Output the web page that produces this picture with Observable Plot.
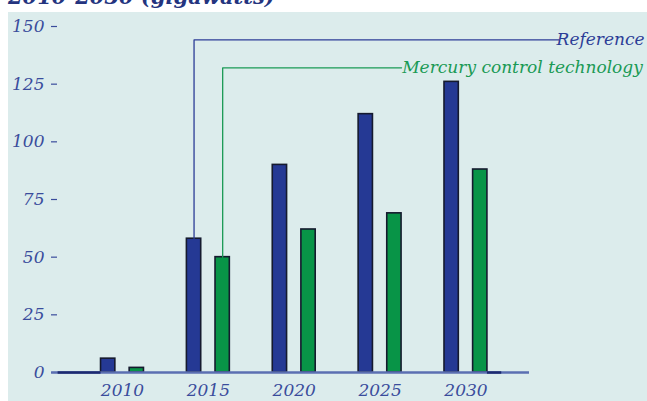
<!DOCTYPE html>
<html>
<head>
<meta charset="utf-8">
<script src="https://cdn.jsdelivr.net/npm/d3@7"></script>
<script src="https://cdn.jsdelivr.net/npm/@observablehq/plot@0.6"></script>
<style>
  html, body { margin: 0; padding: 0; background: #ffffff; width: 647px; height: 401px; overflow: hidden; }
  #wrap { position: relative; width: 647px; height: 401px; }
  #panel { position: absolute; left: 8px; top: 12px; width: 639px; height: 389px; background: #dcecec; }
  #title { position: absolute; left: 8px; top: -14px; font-family: "DejaVu Serif", serif; font-weight: bold; font-style: italic; font-size: 21px; color: #24347f; white-space: nowrap; line-height: 1; }
  #chart { position: absolute; left: 0; top: 0; }
</style>
</head>
<body>
<div id="wrap">
  <div id="panel"></div>
  <div id="title">2010-2030 (gigawatts)</div>
  <div id="chart"></div>
</div>
<script>
// ---- data ----
const years = [2010, 2015, 2020, 2025, 2030];
const referenceValues = [6, 58, 90, 112, 126];
const mercuryValues = [2, 50, 62, 69, 88];
const yTicks = [0, 25, 50, 75, 100, 125, 150];
const seriesNames = ["Reference", "Mercury control technology"];
const seriesColors = ["#253994", "#089447"];
const labelColors = ["#2c3d97", "#1a9a55"];

// ---- table ----
const slot = 5 / 6; // each 5-year group is six bar slots wide
const rows = [];
years.forEach((yr, i) => {
  rows.push({year: yr, series: seriesNames[0], value: referenceValues[i], x1: yr - 1.5 * slot, x2: yr - 0.5 * slot});
  rows.push({year: yr, series: seriesNames[1], value: mercuryValues[i], x1: yr + 0.5 * slot, x2: yr + 1.5 * slot});
});

// zero-height bars sitting on the baseline (empty slots)
const zeroBars = [
  {x1: 2005 + 1.5 * slot, x2: 2005 + 4.5 * slot},
  {x1: 2030 + 1.5 * slot, x2: 2030 + 2.5 * slot}
];

// leader lines from the 2015 bars to the labels
const refBar = rows.find(d => d.year === 2015 && d.series === seriesNames[0]);
const merBar = rows.find(d => d.year === 2015 && d.series === seriesNames[1]);
const refX = (refBar.x1 + refBar.x2) / 2;
const merX = (merBar.x1 + merBar.x2) / 2;
const refLabelY = 144.2;
const merLabelY = 132.1;
const labelEndX = 2040.4;
const refLine = [
  {x: refX, y: refBar.value},
  {x: refX, y: refLabelY},
  {x: 2035.4, y: refLabelY}
];
const merLine = [
  {x: merX, y: merBar.value},
  {x: merX, y: merLabelY},
  {x: 2026.25, y: merLabelY}
];
const labels = [
  {text: seriesNames[0], x: labelEndX, y: refLabelY, color: labelColors[0]},
  {text: seriesNames[1], x: labelEndX - 0.1, y: merLabelY, color: labelColors[1]}
];

const axisColor = "#3a4c9c";

const chart = Plot.plot({
  width: 647,
  height: 401,
  marginLeft: 57,
  marginRight: 118,
  marginTop: 26,
  marginBottom: 29,
  style: {background: "transparent", fontFamily: "DejaVu Serif, serif", fontSize: "17px", fontStyle: "italic", overflow: "visible"},
  x: {type: "linear", domain: [2006.215, 2033.7]},
  y: {domain: [0, 150]},
  marks: [
    Plot.axisY({ticks: yTicks, tickSize: 6, tickPadding: 7, color: axisColor, fontSize: 17, fontStyle: "italic", label: null, strokeWidth: 1.2}),
    Plot.axisX({ticks: years, tickSize: 0, tickPadding: 11, color: axisColor, fontSize: 17, fontStyle: "italic", label: null, tickFormat: d => String(d)}),
    Plot.rectY(rows, {
      x1: "x1", x2: "x2", y: "value",
      fill: d => seriesColors[seriesNames.indexOf(d.series)],
      stroke: "#151a2e", strokeWidth: 1.6
    }),
    Plot.ruleY([0], {x1: 2005.87, x2: 2033.7, stroke: "#5b6fb2", strokeWidth: 2.5, clip: false}),
    Plot.ruleY(zeroBars, {y: 0, x1: "x1", x2: "x2", stroke: "#1c2a70", strokeWidth: 2.5}),
    Plot.line(refLine, {x: "x", y: "y", stroke: labelColors[0], strokeWidth: 1.3, curve: "linear", clip: false}),
    Plot.line(merLine, {x: "x", y: "y", stroke: labelColors[1], strokeWidth: 1.3, curve: "linear", clip: false}),
    Plot.text(labels, {x: "x", y: "y", text: "text", fill: d => d.color, textAnchor: "end", fontSize: 17, fontStyle: "italic", clip: false})
  ]
});
document.getElementById("chart").appendChild(chart);
</script>
</body>
</html>
